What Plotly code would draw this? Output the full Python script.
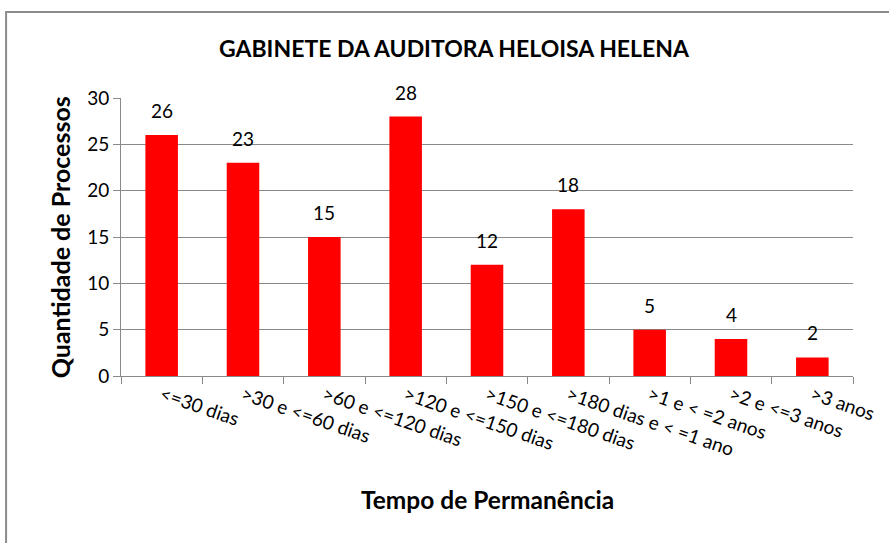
import plotly.graph_objects as go

# tempo de permanencia dos processos no gabinete
categorias = ["<=30 dias", ">30 e <=60 dias", ">60 e <=120 dias", ">120 e <=150 dias",
              ">150 e <=180 dias", ">180 dias e < =1 ano", ">1 e < =2 anos",
              ">2 e <=3 anos", ">3 anos"]
quantidade = [26, 23, 15, 28, 12, 18, 5, 4, 2]
y_ticks = [0, 5, 10, 15, 20, 25, 30]

FONT = "Lato"
GRAY = "#898989"

fig = go.Figure()
fig.add_trace(go.Bar(x=categorias, y=quantidade, marker_color="#ff0000",
                     marker_line_width=0, width=0.4, cliponaxis=False))

# data labels above the bars
for c, v in zip(categorias, quantidade):
    fig.add_annotation(x=c, y=v, text=str(v), showarrow=False, yanchor="bottom",
                       yshift=11, font=dict(family=FONT, size=19, color="black"))

# title and axis titles placed by hand, like in the excel chart
fig.add_annotation(xref="paper", yref="paper", x=0.455, y=1.18, xanchor="center", yanchor="middle",
                   text="<b>GABINETE DA AUDITORA HELOISA HELENA</b>", showarrow=False,
                   font=dict(family=FONT, size=23, color="black"))
fig.add_annotation(xref="paper", yref="paper", x=0.5, y=-0.446, xanchor="center", yanchor="middle",
                   text="<b>Tempo de Permanência</b>", showarrow=False,
                   font=dict(family=FONT, size=24.5, color="black"))
fig.add_annotation(xref="paper", yref="paper", x=-0.083, y=0.5, xanchor="center", yanchor="middle",
                   text="<b>Quantidade de Processos</b>", textangle=-90, showarrow=False,
                   font=dict(family=FONT, size=25, color="black"))

# outer chart frame
fig.add_shape(type="rect", xref="paper", yref="paper", x0=-0.157, x1=1.08, y0=-0.75, y1=1.309,
              line=dict(color="#8c8c8c", width=2), fillcolor="rgba(0,0,0,0)")

fig.update_layout(
    width=889, height=543,
    margin=dict(l=121, r=36, t=98, b=167),
    paper_bgcolor="white", plot_bgcolor="white",
    showlegend=False,
    font=dict(family=FONT, size=19, color="black"),
)
fig.update_xaxes(type="category", showline=True, linecolor=GRAY, linewidth=1,
                 ticks="outside", tickson="boundaries", ticklen=7, tickcolor=GRAY,
                 tickangle=19, tickfont=dict(family=FONT, size=19), showgrid=False)
fig.update_yaxes(range=[0, 30], tickvals=y_ticks, showline=True, linecolor=GRAY, linewidth=1,
                 ticks="outside", ticklen=7, tickcolor=GRAY, showgrid=True, gridcolor=GRAY,
                 gridwidth=1, zeroline=False, tickfont=dict(family=FONT, size=19))

# drop the default 8px body margin so the figure sits at the page corner
fig.write_html("out.html", config={"displayModeBar": False},
               post_script="document.body.style.margin = '0';")
